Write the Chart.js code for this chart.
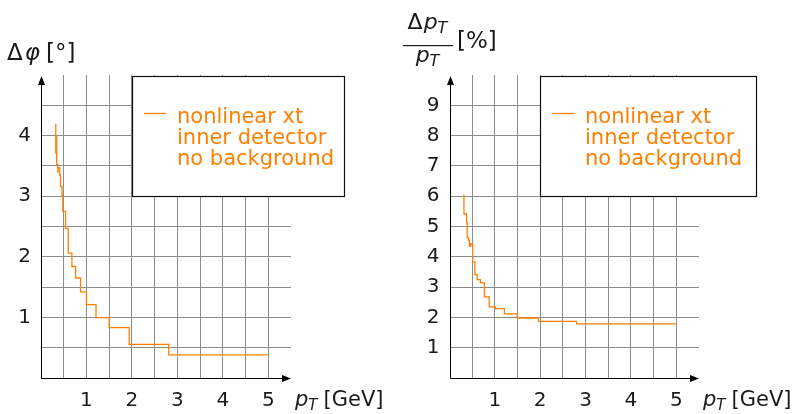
<!DOCTYPE html>
<html lang="en">
  <head>
    <meta charset="UTF-8" />
    <title>Resolution vs pT</title>
    <script src="https://cdn.jsdelivr.net/npm/chart.js"></script>
    <style>
      body { margin: 0; background: #fff; }
      .row { display: flex; width: 802px; height: 414px; }
      canvas { display: block; }
    </style>
  </head>
  <body>
    <div class="row">
      <canvas id="phiChart" width="401" height="414"></canvas>
      <canvas id="ptChart" width="401" height="414"></canvas>
    </div>

    <script>
      // Step curves: each point is where the step lands (x in GeV, new value)
      const phiPt = [0.325, 0.325, 0.34, 0.345, 0.37, 0.375, 0.41, 0.43, 0.46, 0.48, 0.54, 0.6, 0.68, 0.76, 0.87, 1.0, 1.21, 1.5, 1.94, 2.81, 5.0];
      const phiRes = [4.19, 3.71, 3.99, 3.52, 3.4, 3.47, 3.35, 3.16, 3.02, 2.75, 2.47, 2.06, 1.84, 1.65, 1.42, 1.21, 0.995, 0.83, 0.555, 0.38, 0.38];

      const relPt = [0.318, 0.318, 0.376, 0.39, 0.42, 0.44, 0.47, 0.51, 0.56, 0.61, 0.68, 0.77, 0.875, 1.015, 1.21, 1.49, 1.96, 2.8, 5.0];
      const relRes = [6.06, 5.42, 5.12, 4.63, 4.55, 4.35, 4.43, 3.83, 3.41, 3.25, 3.14, 2.68, 2.35, 2.29, 2.115, 1.98, 1.87, 1.785, 1.785];

      const legendLines = ["nonlinear xt", "inner detector", "no background"];
      const xTickLabels = [1, 2, 3, 4, 5];
      const phiTickLabels = [1, 2, 3, 4];
      const relTickLabels = [1, 2, 3, 4, 5, 6, 7, 8, 9];

      const ORANGE = "rgb(255, 128, 0)";
      const FONT = '"DejaVu Sans"';
      Chart.defaults.font.family = FONT;
      Chart.defaults.color = "#1a1a1a";

      function gridColor(max) {
        return (c) =>
          c.tick.value === 0 || c.tick.value === max ? "rgba(0,0,0,0)" : "#8c8c8c";
      }

      function xScale() {
        return {
          type: "linear",
          min: 0,
          max: 5.5,
          border: { display: false },
          grid: { color: gridColor(5.5), drawTicks: false },
          ticks: {
            stepSize: 0.5,
            autoSkip: false,
            maxRotation: 0,
            padding: 11,
            font: { size: 20 },
            callback: (v) => (xTickLabels.includes(v) ? String(v) : ""),
          },
          afterFit: (s) => { s.height = 36; },
        };
      }

      function yScale(max, step, labels, width) {
        return {
          type: "linear",
          min: 0,
          max: max,
          border: { display: false },
          grid: { color: gridColor(max), drawTicks: false },
          ticks: {
            stepSize: step,
            autoSkip: false,
            padding: 10,
            font: { size: 20 },
            callback: (v) => (labels.includes(v) ? String(v) : ""),
          },
          afterFit: (s) => { s.width = width; },
        };
      }

      // p_T with italic p and subscript T, returns end x
      function drawPT(ctx, x, y, size) {
        ctx.font = "italic " + size + "px " + FONT;
        ctx.fillText("p", x, y);
        x += ctx.measureText("p").width;
        const sub = Math.round(size * 0.72);
        ctx.font = "italic " + sub + "px " + FONT;
        ctx.fillText("T", x, y + size * 0.2);
        return x + ctx.measureText("T").width;
      }

      function ptWidth(ctx, size) {
        ctx.font = "italic " + size + "px " + FONT;
        const w = ctx.measureText("p").width;
        ctx.font = "italic " + Math.round(size * 0.72) + "px " + FONT;
        return w + ctx.measureText("T").width;
      }

      function drawTitle(ctx, kind) {
        ctx.fillStyle = "#1a1a1a";
        ctx.textBaseline = "alphabetic";
        ctx.textAlign = "left";
        if (kind === "phi") {
          let x = 7;
          ctx.font = "23px " + FONT;
          ctx.fillText("Δ", x, 60);
          x += ctx.measureText("Δ").width + 2;
          ctx.font = "italic 23px " + FONT;
          ctx.fillText("φ", x, 60);
          x += ctx.measureText("φ").width + 6;
          ctx.font = "23px " + FONT;
          ctx.fillText("[°]", x, 60);
        } else {
          const size = 22;
          ctx.font = size + "px " + FONT;
          const dw = ctx.measureText("Δ").width + 1;
          const num = dw + ptWidth(ctx, size);
          let x = 2 + (49 - num) / 2;
          ctx.font = size + "px " + FONT;
          ctx.fillText("Δ", x, 29);
          drawPT(ctx, x + dw, 29, size);
          ctx.fillRect(2, 45, 50, 1.2);
          drawPT(ctx, 2 + (49 - ptWidth(ctx, size)) / 2, 62, size);
          ctx.font = "23px " + FONT;
          ctx.fillText("[%]", 56, 48);
        }
      }

      const decor = {
        id: "decor",
        afterDraw(chart, args, opts) {
          const { ctx, chartArea: a } = chart;
          const xs = chart.scales.x;
          const ys = chart.scales.y;
          const x0 = Math.round(xs.getPixelForValue(0)) + 0.5;
          const y0 = Math.round(ys.getPixelForValue(0)) + 0.5;
          ctx.save();

          // axes with arrow heads
          ctx.strokeStyle = "#000";
          ctx.fillStyle = "#000";
          ctx.lineWidth = 1;
          ctx.beginPath();
          ctx.moveTo(x0, y0);
          ctx.lineTo(a.right - 6, y0);
          ctx.moveTo(x0, y0);
          ctx.lineTo(x0, a.top + 6);
          ctx.stroke();
          ctx.beginPath();
          ctx.moveTo(a.right, y0);
          ctx.lineTo(a.right - 9, y0 - 3.5);
          ctx.lineTo(a.right - 9, y0 + 3.5);
          ctx.closePath();
          ctx.moveTo(x0, a.top + 1);
          ctx.lineTo(x0 - 3.5, a.top + 10);
          ctx.lineTo(x0 + 3.5, a.top + 10);
          ctx.closePath();
          ctx.fill();

          // legend box
          const bx = Math.round(xs.getPixelForValue(opts.boxFrom)) + 0.5;
          const by = Math.round(a.top) + 1.5;
          const bb = Math.round(ys.getPixelForValue(opts.boxTo)) + 0.5;
          ctx.fillStyle = "#fff";
          ctx.fillRect(bx, by, opts.boxWidth, bb - by);
          ctx.strokeStyle = "#111";
          ctx.lineWidth = 1.2;
          ctx.strokeRect(bx, by, opts.boxWidth, bb - by);
          ctx.strokeStyle = ORANGE;
          ctx.lineWidth = 1.3;
          ctx.beginPath();
          ctx.moveTo(bx + 11.5, by + 37);
          ctx.lineTo(bx + 34, by + 37);
          ctx.stroke();
          ctx.fillStyle = ORANGE;
          ctx.font = "21px " + FONT;
          ctx.textBaseline = "alphabetic";
          ctx.textAlign = "left";
          legendLines.forEach((t, i) => {
            ctx.fillText(t, bx + 44.5, by + 46 + i * 21);
          });

          // axis titles
          ctx.fillStyle = "#1a1a1a";
          const end = drawPT(ctx, a.right + 4, 405.5, 21);
          ctx.font = "21px " + FONT;
          ctx.fillText("[GeV]", end + 6, 405.5);
          drawTitle(ctx, opts.title);
          ctx.restore();
        },
      };

      function stepLine(xv, yv) {
        return {
          label: legendLines.join(" "),
          data: xv.map((x, i) => ({ x: x, y: yv[i] })),
          borderColor: ORANGE,
          borderWidth: 1.3,
          pointRadius: 0,
          stepped: "before",
          fill: false,
        };
      }

      new Chart(document.getElementById("phiChart"), {
        type: "line",
        data: { datasets: [stepLine(phiPt, phiRes)] },
        options: {
          responsive: false,
          animation: false,
          layout: { padding: { top: 75, right: 110, left: 0, bottom: 0 } },
          plugins: {
            legend: { display: false },
            tooltip: { enabled: false },
            decor: { boxFrom: 2.0, boxTo: 3.0, boxWidth: 212, title: "phi" },
          },
          scales: { x: xScale(), y: yScale(5, 0.5, phiTickLabels, 41) },
        },
        plugins: [decor],
      });

      new Chart(document.getElementById("ptChart"), {
        type: "line",
        data: { datasets: [stepLine(relPt, relRes)] },
        options: {
          responsive: false,
          animation: false,
          layout: { padding: { top: 75, right: 103, left: 0, bottom: 0 } },
          plugins: {
            legend: { display: false },
            tooltip: { enabled: false },
            decor: { boxFrom: 2.0, boxTo: 6.0, boxWidth: 216, title: "rel" },
          },
          scales: { x: xScale(), y: yScale(10, 1, relTickLabels, 48.5) },
        },
        plugins: [decor],
      });
    </script>
  </body>
</html>
